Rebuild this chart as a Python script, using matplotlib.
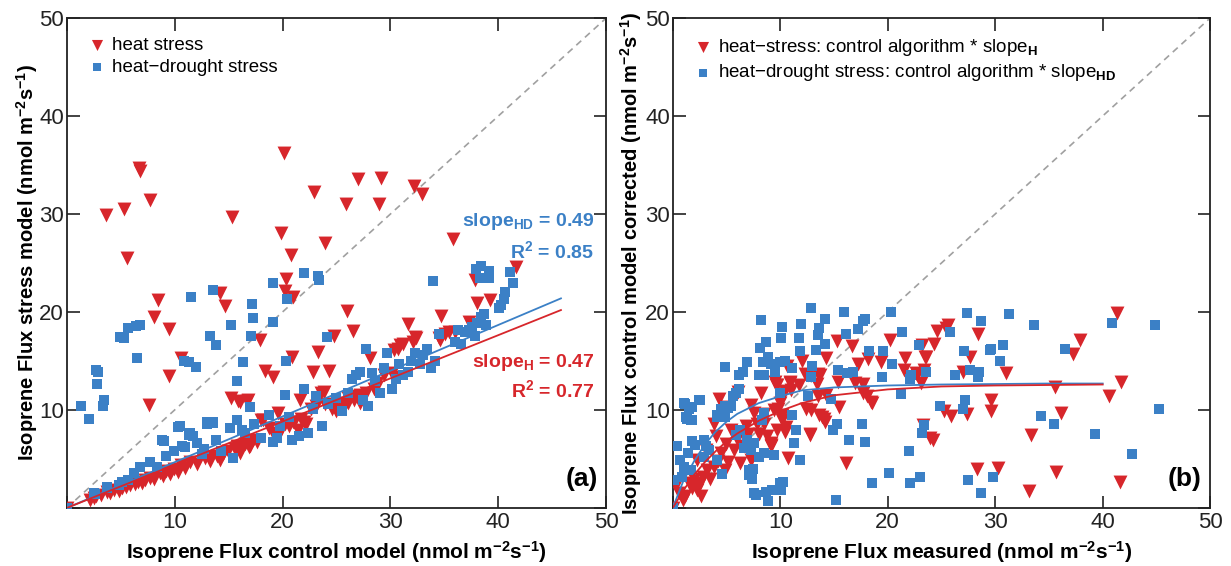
import matplotlib
matplotlib.use("Agg")
import matplotlib.pyplot as plt

plt.rcParams['font.family'] = ['Liberation Sans', 'DejaVu Sans']
plt.rcParams['mathtext.fontset'] = 'custom'
plt.rcParams['mathtext.bf'] = 'Liberation Sans:bold'
plt.rcParams['mathtext.rm'] = 'Liberation Sans'
plt.rcParams['mathtext.default'] = 'bf'

RED = '#d7262b'
BLUE = '#3b80c6'

# ---- panel (a): stress model vs control model ----
a_heat_x = [0, 3.6, 5.3, 5.6, 6.7, 6.8, 7.7, 8.5, 8.1, 9.5, 9.5, 7.6, 10.6, 15.3, 14.2, 14.7, 15.2, 15.9,
            16.7, 17.9, 18.4, 19.1, 19.9, 20.1, 20.3, 20.2, 20.8, 21.0, 20.9, 22.9, 23.9, 23.3, 22.8, 24.3,
            24.8, 23.8, 25.9, 26.0, 26.5, 27.0, 28.9, 29.1, 28.1, 32.2, 32.9, 31.6, 34.7, 35.8, 37.8, 38.0,
            37.3, 39.2, 41.6,
            2.2, 2.5, 2.75, 3.2, 3.7, 4.0, 4.4, 4.8, 5.1, 5.5, 5.9, 6.3, 6.6, 7.0, 7.3, 7.7, 8.1, 8.6, 8.9,
            9.2, 9.6, 9.9, 10.3, 10.6, 11.0, 11.4, 12.1, 12.8, 13.3, 13.9, 14.5, 14.9, 15.6, 16.2, 16.5, 16.9,
            17.3, 17.6, 18.0, 18.7, 19.2, 19.5, 19.9, 20.2, 20.6, 21.1, 21.4, 21.7, 22.0, 22.6, 23.1, 23.9,
            24.6, 25.0, 25.5, 26.1, 26.6, 27.2, 27.7, 28.5, 28.8, 29.4, 30.1, 30.7, 31.2, 32.1, 32.3, 34.5,
            35.1, 35.4, 36.0, 28.7, 30.3, 27.2, 26.1, 30.3, 30.9, 32.4, 34.6,
            16.1, 16.8, 21.6, 19.6, 18.2, 23.6, 25.0, 25.9, 26.6, 22.2, 21.0, 19.6, 15.8, 17.0, 16.1, 13.3, 14.2]
a_heat_y = [0, 29.9, 30.5, 25.5, 34.7, 34.4, 31.4, 21.2, 19.5, 18.3, 13.5, 10.5, 15.3, 29.7, 21.9, 20.6, 11.2, 10.9,
            10.9, 17.1, 14.0, 13.4, 28.1, 36.2, 23.4, 22.1, 25.8, 21.5, 15.4, 32.2, 27.0, 15.9, 13.9, 14.0,
            17.5, 11.8, 31.0, 20.1, 18.1, 33.6, 31.0, 33.7, 15.3, 32.9, 32.0, 18.8, 19.6, 27.4, 23.3, 20.9,
            19.0, 21.2, 24.6,
            0.85, 1.0, 1.2, 1.3, 1.6, 1.5, 1.8, 1.7, 2.0, 2.1, 2.3, 2.4, 2.7, 2.6, 2.9, 3.1, 3.0, 3.6, 3.3,
            3.8, 3.5, 4.0, 3.7, 4.4, 4.1, 4.7, 4.5, 5.1, 4.8, 5.3, 5.5, 5.8, 6.0, 6.2, 6.5, 6.2,
            6.9, 6.7, 9.0, 8.2, 7.4, 7.7, 8.0, 8.6, 8.4, 8.8, 8.0, 9.1, 8.8, 10.1, 10.4, 10.6,
            10.1, 9.9, 10.6, 11.2, 11.4, 11.5, 11.7, 12.1, 12.8, 13.6, 13.8, 16.2, 16.7, 16.9, 17.4, 17.3,
            17.8, 18.0, 18.0, 12.2, 13.4, 10.7, 10.7, 16.1, 16.6, 17.3, 17.1,
            10.8, 11.0, 11.0, 9.7, 9.0, 11.7, 10.0, 10.7, 11.0, 8.6, 8.8, 7.4, 6.3, 6.3, 5.6, 5.2, 4.9]

a_drought_x = [0, 1.3, 2.1, 2.7, 2.9, 2.8, 3.4, 3.5, 4.9, 5.3, 5.7, 6.4, 6.8, 6.5, 11.5, 10.9, 11.3, 12.0, 13.6,
               13.3, 13.8, 15.2, 15.8, 16.3, 17.2, 17.3, 17.1, 17.0, 19.1, 19.1, 20.4, 20.3, 22.0, 23.3, 23.4,
               24.1, 27.7, 33.9, 37.9, 38.4, 38.3, 39.1, 39.1, 41.1, 40.6, 40.5, 41.4, 40.2, 40.1,
               2.6, 3.7, 4.8, 5.1, 5.7, 6.2, 6.8, 7.7, 8.4, 8.8, 9.2, 9.9, 10.5, 11.0, 11.4, 11.7, 12.1, 12.5,
               12.7, 13.0, 13.6, 13.8, 14.3, 15.1, 15.4, 15.8, 16.2, 16.5, 17.4, 18.0, 18.7, 19.1, 19.5, 19.8,
               20.2, 20.6, 20.9, 21.5, 22.0, 22.4, 22.8, 23.1, 23.7, 24.2, 25.0, 25.5, 26.1, 26.4, 26.8, 27.2,
               27.5, 27.9, 28.3, 28.6, 29.0, 29.4, 29.7, 30.1, 30.5, 30.8, 31.2, 31.6, 31.9, 32.3, 32.7, 33.0,
               33.4, 33.8, 34.1, 34.5, 36.0, 36.3, 36.9, 37.3, 37.6, 38.0, 38.4, 38.7, 38.9, 37.8, 36.5,
               10.3, 11.3, 11.7, 13.0, 13.6, 9.0, 10.7, 7.7, 6.8, 3.7, 2.5]
a_drought_y = [0, 10.4, 9.1, 14.1, 13.9, 12.7, 10.4, 11.0, 17.4, 17.3, 18.4, 18.6, 18.7, 15.3, 21.5, 15.0, 14.9, 14.4, 22.2,
               17.6, 16.6, 18.7, 13.0, 14.9, 20.8, 19.4, 17.6, 10.3, 23.0, 19.0, 21.3, 15.0, 24.0, 23.7, 23.3,
               17.4, 16.2, 23.2, 24.4, 24.7, 23.5, 24.2, 23.5, 24.1, 22.0, 21.3, 23.0, 20.7, 20.4,
               1.4, 2.1, 2.3, 2.7, 2.9, 3.6, 4.2, 4.7, 4.2, 6.9, 5.3, 5.8, 8.4, 6.2, 7.7, 7.3, 6.6, 5.5,
               6.0, 8.8, 8.8, 6.9, 5.8, 8.2, 5.1, 9.0, 8.0, 7.7, 8.6, 7.1, 9.5, 6.7, 7.1, 8.4,
               11.5, 9.3, 6.9, 7.3, 12.1, 7.7, 10.1, 11.4, 8.4, 10.6, 11.2, 9.9, 11.7, 13.2, 13.6, 13.9,
               11.0, 10.4, 13.8, 13.0, 11.7, 14.3, 15.8, 12.1, 13.2, 14.7, 13.6, 13.9, 15.0, 15.8, 14.7, 15.6,
               16.2, 14.3, 15.0, 17.8, 16.9, 18.2, 18.0, 18.2, 18.5, 18.9, 19.5, 19.8, 18.7, 17.6, 16.7,
               8.3, 7.4, 7.3, 8.6, 8.7, 6.8, 6.3, 4.7, 4.2, 2.0, 1.5]

a_fit_x = [0, 45.8]
a_slope_heat = 0.441      # drawn line, label says 0.47
a_slope_drought = 0.467   # drawn line, label says 0.49

# ---- panel (b): corrected control model vs measured ----
b_heat_x = [0, 41.3, 41.7, 40.6, 41.6, 37.9, 37.2, 35.6, 36.1, 35.7, 33.3, 33.1, 31.0, 30.3, 29.6, 29.6, 28.3, 28.4,
            27.7, 27.0, 27.4, 25.9, 25.2, 25.6, 25.4, 24.6, 24.3, 23.5, 23.2, 23.4, 23.1, 22.6, 21.6, 21.5,
            20.2, 19.4, 18.2, 18.4, 18.1, 16.7, 17.2, 17.0, 17.7, 15.5, 15.3, 16.1, 14.3, 13.7, 14.1, 13.6,
            12.8, 12.4, 12.0, 12.6, 10.7, 10.6, 10.9, 10.4, 9.8, 9.1, 10.2, 9.6, 23.3, 23.9, 24.2,
            12.3, 13.5, 9.5, 10.9, 11.7, 13.4, 13.5, 14.3, 17.7, 18.5, 12.9, 13.9, 14.2, 12.8, 10.4, 9.1,
            15.4, 22.7, 23.6,
            4.3, 4.8, 6.1, 7.3, 8.2, 7.6, 8.5, 9.4, 10.2, 11.0, 9.7, 3.8, 4.0, 5.4, 5.7, 6.6, 7.3, 6.3, 5.1,
            4.9, 3.8, 3.2, 2.8, 2.0, 2.3, 1.5, 0.6, 0.3, 1.1, 2.6, 3.1, 2.3, 4.5, 9.1, 8.0, 8.8, 9.7, 10.5,
            10.0, 1.0, 1.8, 2.5, 3.5, 4.2, 5.0, 6.0, 7.0, 7.8, 8.5, 6.8]
b_heat_y = [0, 19.9, 12.9, 11.4, 2.7, 17.1, 15.7, 12.3, 9.7, 3.7, 7.4, 1.7, 13.8, 4.1, 11.0, 9.9, 4.0, 17.8,
            15.4, 13.9, 9.6, 9.4, 9.9, 18.7, 18.4, 18.1, 16.7, 15.4, 16.6, 14.1, 12.8, 13.8, 15.3, 14.1,
            17.1, 14.9, 15.2, 10.8, 11.4, 16.5, 14.7, 12.8, 11.7, 10.3, 17.0, 4.6, 15.3, 13.6, 9.1, 9.5,
            7.5, 10.1, 15.0, 13.6, 5.1, 14.5, 12.8, 11.9, 10.1, 6.6, 9.5, 12.5, 8.5, 7.1, 6.9,
            13.7, 13.7, 12.9, 12.9, 12.6, 12.7, 11.4, 11.5, 12.7, 10.7, 10.0, 9.3, 8.8, 7.4, 7.8, 6.4,
            12.9, 13.6, 15.4,
            11.1, 10.3, 11.8, 10.5, 11.7, 9.7, 8.6, 10.0, 9.0, 12.0, 12.6, 8.6, 7.3, 8.0, 5.9, 6.3, 4.9, 4.6, 4.7,
            3.9, 4.2, 3.9, 3.2, 3.0, 1.8, 2.5, 1.5, 2.3, 1.2, 1.2, 5.9, 4.9, 5.6, 6.3, 7.6, 7.3, 8.0, 8.3,
            10.7, 0.8, 2.0, 2.5, 3.0, 4.8, 6.5, 7.0, 7.5, 8.6, 9.6, 8.4]

b_drought_x = [0, 44.9, 45.2, 40.9, 42.7, 39.3, 36.5, 35.5, 34.3, 33.6, 31.3, 30.7, 30.4, 29.6, 29.5, 29.8, 28.7,
               28.4, 28.5, 28.7, 27.5, 27.4, 27.1, 27.2, 27.0, 27.7, 26.3, 25.8, 24.9, 23.6, 23.4, 23.2, 23.0,
               22.9, 22.2, 22.1, 22.0, 22.1, 21.3, 21.2, 20.3, 20.4, 20.1, 19.6, 19.5, 18.5, 17.9, 17.7, 17.2,
               16.8, 17.6, 17.9, 18.3, 15.9, 16.1, 15.4, 16.2, 16.4, 15.2, 15.3, 14.9, 14.7, 14.2, 14.2, 12.9,
               13.6, 13.5, 13.3, 13.0, 12.6, 12.9, 11.9, 11.7, 11.8, 11.1, 11.5, 11.8, 11.1, 11.3, 10.2, 10.1,
               10.4, 10.0, 10.3, 10.1, 9.2, 8.9, 8.7, 7.6, 7.5, 7.1, 8.2, 8.1, 8.7, 8.9, 8.4, 9.1, 8.5, 9.5,
               8.0, 6.9, 6.2, 6.5, 4.9, 6.2, 5.6, 5.4, 4.9, 4.5, 4.1, 2.5, 1.1, 1.8, 1.3, 1.8,
               1.05, 1.5, 1.2, 1.7, 2.4, 4.1, 4.9, 5.1, 5.9, 6.2, 8.5, 8.3, 10.0, 0.4, 0.7, 1.05, 1.4, 1.8,
               2.1, 2.9, 3.1, 3.4, 2.9, 1.7, 0.1, 0.9, 4.1, 4.6, 5.9, 6.6, 6.9, 7.3, 7.6, 6.3, 8.0, 8.5, 9.4,
               7.1, 7.4, 7.7, 10.0]
b_drought_y = [0, 18.7, 10.1, 18.9, 5.5, 7.6, 16.2, 8.6, 9.4, 18.7, 19.8, 16.6, 15.0, 16.2, 16.1, 3.2, 19.1,
               13.4, 13.9, 1.5, 2.9, 19.9, 16.0, 11.0, 10.1, 14.1, 13.6, 18.0, 10.4, 13.9, 8.5, 7.7, 3.2,
               16.6, 13.6, 13.2, 5.8, 2.6, 18.0, 11.6, 20.0, 14.7, 3.6, 16.0, 13.4, 2.6, 19.3, 19.1, 18.3,
               13.9, 8.6, 6.7, 16.0, 20.0, 17.8, 14.1, 13.8, 6.9, 0.8, 8.6, 8.0, 11.1, 16.7, 19.3, 20.4,
               18.4, 17.7, 16.1, 14.5, 11.4, 13.4, 18.8, 17.3, 16.0, 14.3, 8.0, 4.9, 9.5, 6.6, 18.5, 17.3,
               15.0, 14.9, 2.7, 1.8, 1.8, 0.7, 1.6, 1.5, 4.0, 3.4, 19.2, 16.3, 16.9, 15.4, 14.9, 14.7, 13.6, 13.9,
               13.6, 14.9, 13.6, 13.9, 14.4, 12.1, 11.4, 10.4, 10.4, 10.1, 9.5, 11.0, 10.6, 10.3, 9.1, 9.0,
               10.7, 10.1, 9.3, 9.0, 11.0, 9.3, 9.3, 10.2, 11.7, 13.6, 9.7, 9.0, 11.7, 6.3, 4.9, 4.2, 5.6, 6.8,
               6.4, 6.9, 6.3, 5.9, 5.2, 3.9, 2.9, 3.2, 4.9, 3.5, 7.4, 6.1, 6.9, 5.9, 6.6, 8.0, 5.2, 5.6, 5.4,
               3.9, 3.0, 1.3, 2.5]

# saturating fit curves
b_fit_x = [0, 1, 2, 3, 4, 5, 6, 8, 10, 12, 15, 20, 25, 30, 35, 40]
b_fit_heat = [0, 1.8, 3.4, 4.7, 5.8, 6.8, 7.6, 8.9, 9.9, 10.7, 11.5, 12.1, 12.4, 12.5, 12.55, 12.6]
b_fit_drought = [0, 2.8, 4.8, 6.5, 7.8, 8.8, 9.6, 10.7, 11.4, 12.0, 12.3, 12.5, 12.6, 12.65, 12.7, 12.7]

fig = plt.figure(figsize=(12.31, 5.66), dpi=100)
ax1 = fig.add_axes([0.0542, 0.1025, 0.4383, 0.8657])
ax2 = fig.add_axes([0.5465, 0.1025, 0.4366, 0.8657])

tri_s = 100
sq_s = 46


def style_axis(ax):
    ax.set_xlim(0, 50)
    ax.set_ylim(0, 50)
    ax.set_xticks([0, 10, 20, 30, 40, 50])
    ax.set_xticklabels(['', '10', '20', '30', '40', '50'])
    ax.set_yticks([0, 10, 20, 30, 40, 50])
    ax.set_yticklabels(['', '10', '20', '30', '40', '50'])
    ax.tick_params(direction='in', length=9, width=1.2, top=True, right=True,
                   labelsize=16, pad=3, colors='#222222')
    ax.tick_params(axis='y', pad=2)
    for sp in ax.spines.values():
        sp.set_linewidth(1.3)
        sp.set_color('#222222')
    ax.plot([0, 50], [0, 50], ls=(0, (4, 3)), color='#a0a0a0', lw=1.2, zorder=1)


style_axis(ax1)
h1 = ax1.scatter(a_heat_x, a_heat_y, marker='v', s=tri_s, color=RED, linewidths=0, zorder=3,
                 label='heat stress')
h2 = ax1.scatter(a_drought_x, a_drought_y, marker='s', s=sq_s, color=BLUE, linewidths=0, zorder=3,
                 label='heat\u2212drought stress')
ax1.plot(a_fit_x, [a_slope_drought * v for v in a_fit_x], color=BLUE, lw=1.3, zorder=4)
ax1.plot(a_fit_x, [a_slope_heat * v for v in a_fit_x], color=RED, lw=1.3, zorder=4)
ax1.legend(handles=[h1, h2], loc='upper left', bbox_to_anchor=(0.0, 1.0), frameon=False,
           fontsize=13.5, handletextpad=0.2, labelspacing=0.25, borderaxespad=0.6,
           handlelength=1.2, scatterpoints=1, markerscale=0.8)
ax1.text(48.9, 29.2, 'slope$_{HD}$ = 0.49', color=BLUE, fontsize=14, fontweight='bold',
         ha='right', va='center')
ax1.text(48.9, 26.2, 'R$^{2}$ = 0.85', color=BLUE, fontsize=14, fontweight='bold',
         ha='right', va='center')
ax1.text(48.9, 14.8, 'slope$_{H}$ = 0.47', color=RED, fontsize=14, fontweight='bold',
         ha='right', va='center')
ax1.text(48.9, 12.0, 'R$^{2}$ = 0.77', color=RED, fontsize=14, fontweight='bold',
         ha='right', va='center')
ax1.text(49.2, 3.0, '(a)', fontsize=19, fontweight='bold', ha='right', va='center')
ax1.set_xlabel('Isoprene Flux control model (nmol m$^{-2}$s$^{-1}$)', fontsize=15,
               fontweight='bold', labelpad=4)
ax1.set_ylabel('Isoprene Flux stress model (nmol m$^{-2}$s$^{-1}$)', fontsize=14.5,
               fontweight='bold', labelpad=-1)

style_axis(ax2)
g1 = ax2.scatter(b_heat_x, b_heat_y, marker='v', s=tri_s, color=RED, linewidths=0, zorder=3,
                 label='heat\u2212stress: control algorithm * slope$_{H}$')
g2 = ax2.scatter(b_drought_x, b_drought_y, marker='s', s=sq_s, color=BLUE, linewidths=0, zorder=3,
                 label='heat\u2212drought stress: control algorithm * slope$_{HD}$')
ax2.plot(b_fit_x, b_fit_drought, color=BLUE, lw=1.3, zorder=4)
ax2.plot(b_fit_x, b_fit_heat, color=RED, lw=1.3, zorder=4)
ax2.legend(handles=[g1, g2], loc='upper left', bbox_to_anchor=(0.0, 1.0), frameon=False,
           fontsize=13.5, handletextpad=0.2, labelspacing=0.25, borderaxespad=0.6,
           handlelength=1.2, scatterpoints=1, markerscale=0.8)
ax2.text(49.2, 3.0, '(b)', fontsize=19, fontweight='bold', ha='right', va='center')
ax2.set_xlabel('Isoprene Flux measured (nmol m$^{-2}$s$^{-1}$)', fontsize=15,
               fontweight='bold', labelpad=4)
ax2.set_ylabel('Isoprene Flux control model corrected (nmol m$^{-2}$s$^{-1}$)', fontsize=14.5,
               fontweight='bold', labelpad=1)

fig.savefig('out.png', dpi=100)
